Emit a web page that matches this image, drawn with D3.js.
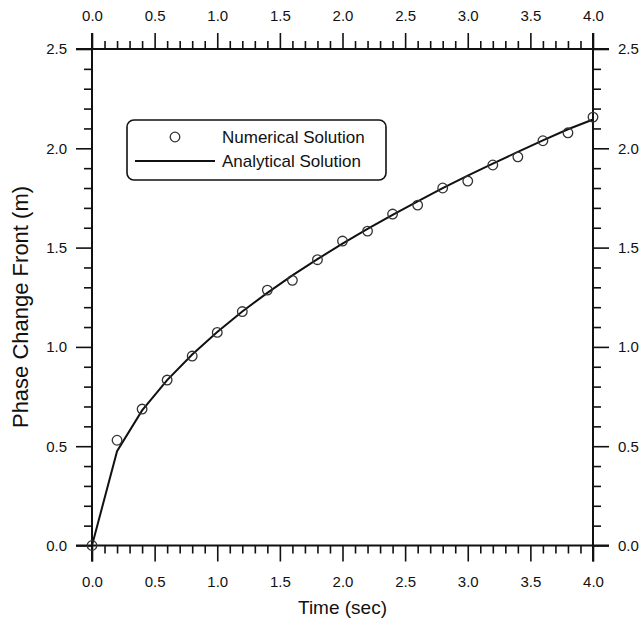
<!DOCTYPE html>
<html>
<head>
<meta charset="utf-8">
<script src="https://cdn.jsdelivr.net/npm/d3@7.9.0/dist/d3.min.js"></script>
<style>
  body { margin: 0; background: #fff; }
  svg text { font-family: Arial, "Liberation Sans", sans-serif; fill: #111; }
</style>
</head>
<body>
<svg id="chart" width="641" height="621"></svg>
<script>
// time samples (sec)
const times = [0.0, 0.2, 0.4, 0.6, 0.8, 1.0, 1.2, 1.4, 1.6, 1.8, 2.0,
               2.2, 2.4, 2.6, 2.8, 3.0, 3.2, 3.4, 3.6, 3.8, 4.0];
// numerical solution (circles)
const numerical = [0.0, 0.53, 0.687, 0.833, 0.954, 1.073, 1.178, 1.286, 1.335, 1.439, 1.533,
                   1.583, 1.669, 1.714, 1.800, 1.835, 1.916, 1.957, 2.038, 2.078, 2.157];
// analytical solution (line)
const analytical = [0.0, 0.475, 0.680, 0.833, 0.962, 1.075, 1.178, 1.272, 1.360, 1.442, 1.520,
                    1.594, 1.665, 1.733, 1.799, 1.862, 1.923, 1.982, 2.040, 2.096, 2.145];
const xMajor = [0.0, 0.5, 1.0, 1.5, 2.0, 2.5, 3.0, 3.5, 4.0];
const yMajor = [0.0, 0.5, 1.0, 1.5, 2.0, 2.5];
const legendLabels = ['Numerical Solution', 'Analytical Solution'];

const svg = d3.select('#chart');
const mLeft = 92, mRight = 593, mTop = 49, mBottom = 545.5;

let x = d3.scaleLinear().domain([0, 4]).range([mLeft, mRight]);
let y = d3.scaleLinear().domain([0, 2.5]).range([mBottom, mTop]);

const xMinor = d3.range(0, 41).map(i => i / 10).filter(v => Math.round(v * 10) % 5 !== 0);
const yMinor = d3.range(0, 26).map(i => i / 10).filter(v => Math.round(v * 10) % 5 !== 0);
const fmt = d3.format('.1f');

function styleAxis(g) {
  g.select('.domain').remove();
  g.selectAll('line').attr('stroke', '#111').attr('stroke-width', 1.6);
  g.selectAll('text').attr('font-size', 15).attr('fill', '#111')
    .attr('font-family', 'Arial, "Liberation Sans", sans-serif');
}

// bottom axis
svg.append('g').attr('transform', `translate(0,${mBottom})`)
  .call(d3.axisBottom(x).tickValues(xMajor).tickFormat(fmt).tickSize(16).tickPadding(15))
  .call(styleAxis);
svg.append('g').attr('transform', `translate(0,${mBottom})`)
  .call(d3.axisBottom(x).tickValues(xMinor).tickFormat('').tickSize(8))
  .call(styleAxis);
// top axis
svg.append('g').attr('transform', `translate(0,${mTop})`)
  .call(d3.axisTop(x).tickValues(xMajor).tickFormat(fmt).tickSize(16).tickPadding(12))
  .call(styleAxis);
svg.append('g').attr('transform', `translate(0,${mTop})`)
  .call(d3.axisTop(x).tickValues(xMinor).tickFormat('').tickSize(8))
  .call(styleAxis);
// left axis
svg.append('g').attr('transform', `translate(${mLeft},0)`)
  .call(d3.axisLeft(y).tickValues(yMajor).tickFormat(fmt).tickSize(16).tickPadding(9))
  .call(styleAxis);
svg.append('g').attr('transform', `translate(${mLeft},0)`)
  .call(d3.axisLeft(y).tickValues(yMinor).tickFormat('').tickSize(8))
  .call(styleAxis);
// right axis
svg.append('g').attr('transform', `translate(${mRight},0)`)
  .call(d3.axisRight(y).tickValues(yMajor).tickFormat(fmt).tickSize(16).tickPadding(9))
  .call(styleAxis);
svg.append('g').attr('transform', `translate(${mRight},0)`)
  .call(d3.axisRight(y).tickValues(yMinor).tickFormat('').tickSize(8))
  .call(styleAxis);

// frame lines, extended past the corners
const ext = 16;
const frame = svg.append('g').attr('stroke', '#111').attr('stroke-width', 2);
frame.append('line').attr('x1', mLeft - ext).attr('x2', mRight + ext).attr('y1', mTop).attr('y2', mTop);
frame.append('line').attr('x1', mLeft - ext).attr('x2', mRight + ext).attr('y1', mBottom).attr('y2', mBottom);
frame.append('line').attr('x1', mLeft).attr('x2', mLeft).attr('y1', mTop - ext).attr('y2', mBottom + ext);
frame.append('line').attr('x1', mRight).attr('x2', mRight).attr('y1', mTop - ext).attr('y2', mBottom + ext);

// analytical line
const lineGen = d3.line().x(d => x(d[0])).y(d => y(d[1]));
svg.append('path')
  .attr('d', lineGen(d3.zip(times, analytical)))
  .attr('fill', 'none').attr('stroke', '#111').attr('stroke-width', 2);

// numerical circles
svg.append('g').selectAll('circle')
  .data(d3.zip(times, numerical))
  .join('circle')
  .attr('cx', d => x(d[0])).attr('cy', d => y(d[1])).attr('r', 4.8)
  .attr('fill', 'none').attr('stroke', '#333').attr('stroke-width', 1.3);

// axis titles
svg.append('text').attr('x', (mLeft + mRight) / 2).attr('y', 614)
  .attr('text-anchor', 'middle').attr('font-size', 19).text('Time (sec)');
svg.append('text').attr('transform', 'translate(28,307) rotate(-90)')
  .attr('text-anchor', 'middle').attr('font-size', 22).text('Phase Change Front (m)');

// legend
const legend = svg.append('g');
legend.append('rect').attr('x', 127).attr('y', 120).attr('width', 259).attr('height', 60)
  .attr('rx', 7).attr('fill', '#fff').attr('stroke', '#111').attr('stroke-width', 1.6);
legend.append('circle').attr('cx', 175).attr('cy', 137).attr('r', 4.8)
  .attr('fill', 'none').attr('stroke', '#333').attr('stroke-width', 1.3);
legend.append('line').attr('x1', 135).attr('x2', 215).attr('y1', 161).attr('y2', 161)
  .attr('stroke', '#111').attr('stroke-width', 2);
legendLabels.forEach((label, i) => {
  legend.append('text').attr('x', 222).attr('y', 143 + i * 24)
    .attr('font-size', 17).text(label);
});
</script>
</body>
</html>
